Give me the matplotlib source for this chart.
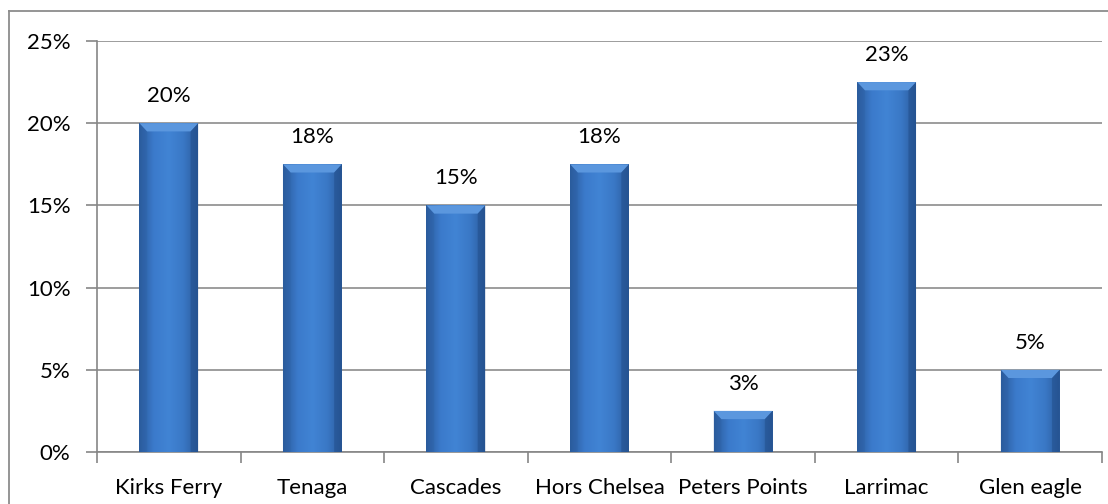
import numpy as np, matplotlib; matplotlib.use("Agg")
import matplotlib.pyplot as plt
from matplotlib.patches import Polygon
from matplotlib.lines import Line2D
from matplotlib.colors import LinearSegmentedColormap

sites = ["Kirks Ferry", "Tenaga", "Cascades", "Hors Chelsea", "Peters Points", "Larrimac", "Glen eagle"]
share = [0.20, 0.175, 0.15, 0.175, 0.025, 0.225, 0.05]
yticks = [0, 0.05, 0.10, 0.15, 0.20, 0.25]

plt.rcParams['font.family'] = ['Lato', 'DejaVu Sans']
FS = 16
W, H = 1108, 504
fig = plt.figure(figsize=(W/100, H/100), dpi=100)
ax = fig.add_axes([97/W, 1-452/H, (1102-97)/W, (452-41)/H])

# outer chart frame: only top and left edges show in the picture
fig.lines.append(Line2D([9/W, 1], [1-11/H, 1-11/H], transform=fig.transFigure, color='#8c8c8c', lw=1.3))
fig.lines.append(Line2D([9/W, 9/W], [0, 1-11/H], transform=fig.transFigure, color='#8c8c8c', lw=1.3))

x = np.arange(len(sites))
bw = 0.41
bars = ax.bar(x, share, width=bw, color='#3a76c4', zorder=3, ec='none')

cm = LinearSegmentedColormap.from_list('bev', ['#2a5a9a', '#3b7acb', '#4184d4', '#3a78c6', '#2b5b9b'])
grad = np.linspace(0, 1, 256).reshape(1, -1)
for b in bars:
    x0, w, h = b.get_x(), b.get_width(), b.get_height()
    im = ax.imshow(grad, cmap=cm, extent=[x0, x0+w, 0, h], aspect='auto', zorder=3.1, interpolation='bicubic')
    im.set_clip_path(b)
    d = min(0.005, h*0.3)
    dx = w*0.13
    ax.add_patch(Polygon([[x0, h], [x0+w, h], [x0+w-dx, h-d], [x0+dx, h-d]],
                         closed=True, fc='#5b97de', ec='none', zorder=3.2))
    ax.add_patch(Polygon([[x0, h], [x0+dx, h-d], [x0+dx, 0], [x0, 0]],
                         closed=True, fc='#2d5fa3', ec='none', alpha=0.35, zorder=3.2))
    ax.add_patch(Polygon([[x0+w, h], [x0+w-dx, h-d], [x0+w-dx, 0], [x0+w, 0]],
                         closed=True, fc='#1f4a85', ec='none', alpha=0.45, zorder=3.2))

for xi, v in zip(x, share):
    ax.text(xi, v+0.0105, f"{int(np.floor(v*100+0.5))}%", ha='center', va='bottom', fontsize=FS)

ax.set_xlim(-0.5, len(sites)-0.5)
ax.set_ylim(0, 0.25)
ax.set_yticks(yticks)
ax.set_yticklabels([f"{int(round(t*100))}%" for t in yticks], fontsize=FS)
ax.set_xticks(np.arange(-0.5, len(sites)))
ax.set_xticklabels([])
ax.set_xticks(x, minor=True)
ax.set_xticklabels(sites, minor=True, fontsize=FS)
ax.tick_params(axis='x', which='minor', length=0, pad=19)
ax.tick_params(axis='x', which='major', length=8, color='#868686', width=1.2)
ax.tick_params(axis='y', length=8, color='#868686', width=1.2, pad=11)
ax.grid(axis='y', color='#8c8c8c', lw=1.2, zorder=0)
for s in ['top', 'right']:
    ax.spines[s].set_visible(False)
for s in ['left', 'bottom']:
    ax.spines[s].set_color('#868686'); ax.spines[s].set_linewidth(1.2)

fig.savefig("out.png", dpi=100)
